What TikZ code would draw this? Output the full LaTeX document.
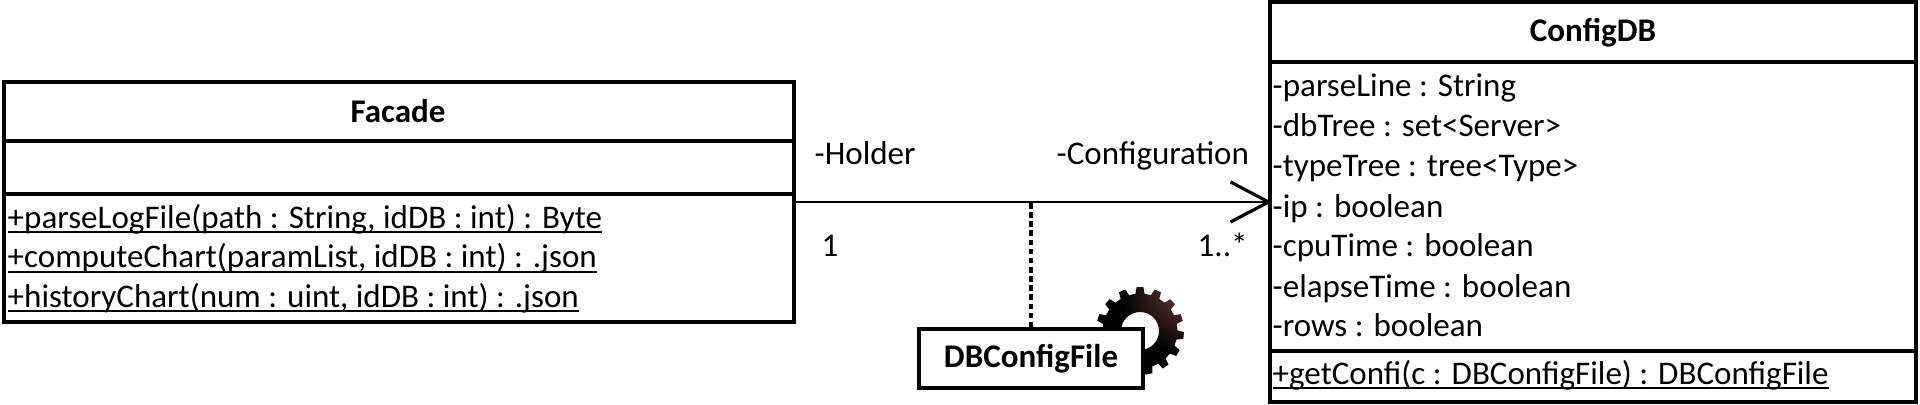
\documentclass[tikz,border=0pt]{standalone}
\usepackage{fontspec}
\setmainfont{Carlito}
\usetikzlibrary{arrows.meta,positioning}
\pgfdeclareradialshading{gearglow}{\pgfpoint{28bp}{28bp}}{color(0bp)=(rgb:red,58;green,32;blue,32); color(30bp)=(black); color(100bp)=(black)}
\newcommand{\classop}[1]{\leavevmode\setbox0\hbox{#1}\rlap{#1}\rule[-1.5pt]{\wd0}{.55pt}}

\begin{document}
\begin{tikzpicture}
[classbox/.style={draw,line width=.9pt,inner sep=0pt},
classline/.style={line width=.9pt},
rowtext/.style={anchor=base west,inner sep=0pt,font=\fontsize{9.4}{11}\selectfont},
titletext/.style={anchor=base,inner sep=0pt,font=\fontsize{9.4}{11}\selectfont\bfseries},
edge/.style={-{Straight Barb[length=3.8mm,width=4mm,line width=.9pt]},line width=.6pt,shorten >=-1pt},
note/.style={line width=.9pt,dash pattern=on 1.6pt off 1pt}]
\useasboundingbox (0,0) rectangle (19.2,4.04);
%%
\node[classbox,minimum width=7.9cm,minimum height=2.4cm] (facade) at (3.99,2.02) {};
\node[titletext] (facadetitle) at (3.98,2.81) {Facade};
\draw[classline] (facade.west |- 0,2.63) -- (facade.east |- 0,2.63);
\draw[classline] (facade.west |- 0,2.10) -- (facade.east |- 0,2.10);
\node[rowtext] (parselog) at (.07,1.76) {\classop{+parseLogFile(path : String, idDB : int) : Byte}};
\node[rowtext] (compute) at (.07,1.36) {\classop{+computeChart(paramList, idDB : int) : .json}};
\node[rowtext] (history) at (.07,.97) {\classop{+historyChart(num : uint, idDB : int) : .json}};
%%
%%
\node[classbox,minimum width=6.46cm,minimum height=4cm] (configdb) at (15.93,2.02) {};
\node[titletext] (configtitle) at (15.93,3.62) {ConfigDB};
\draw[classline] (configdb.west |- 0,3.42) -- (configdb.east |- 0,3.42);
\draw[classline] (configdb.west |- 0,.53) -- (configdb.east |- 0,.53);
\node[rowtext] (parseline) at (12.72,3.07) {-parseLine : String};
\node[rowtext] (dbtree) at (12.72,2.67) {-dbTree : set<Server>};
\node[rowtext] (typetree) at (12.72,2.27) {-typeTree : tree<Type>};
\node[rowtext] (ip) at (12.72,1.87) {-ip : boolean};
\node[rowtext] (cputime) at (12.72,1.47) {-cpuTime : boolean};
\node[rowtext] (elapsetime) at (12.72,1.07) {-elapseTime : boolean};
\node[rowtext] (rows) at (12.72,.68) {-rows : boolean};
\node[rowtext] (getconfi) at (12.72,.20) {\classop{+getConfi(c : DBConfigFile) : DBConfigFile}};
%%
%%
\begin{scope}[shift={(11.40,.73)}]
\def \n {15}
\def \rad {.375}
\def \tip {.44}
\shade[shading=gearglow,even odd rule] ({90-7}:\rad)
  \foreach \k in {0,...,14} {
    -- ({360/\n*\k+90-7}:\rad) -- ({360/\n*\k+90-4.5}:\tip) -- ({360/\n*\k+90+4.5}:\tip) -- ({360/\n*\k+90+7}:\rad)
  } -- cycle (0,0) circle (.19);
\end{scope}
%%
\node[classbox,fill=white,minimum width=2.24cm,minimum height=.59cm,font=\fontsize{9.4}{11}\selectfont\bfseries] (dbconfigfile) at (10.31,.455) {DBConfigFile};
%%
\draw[edge] (facade) -- (configdb);
\draw[note] (dbconfigfile.north) -- (dbconfigfile.north |- facade.east);
%%
\node[rowtext] (holder) at (8.14,2.39) {-Holder};
\node[rowtext] (configuration) at (10.56,2.39) {-Configuration};
\node[rowtext] (holdernum) at (8.21,1.48) {1};
\node[rowtext] (confignum) at (11.97,1.48) {1..*};
\end{tikzpicture}
\end{document}
